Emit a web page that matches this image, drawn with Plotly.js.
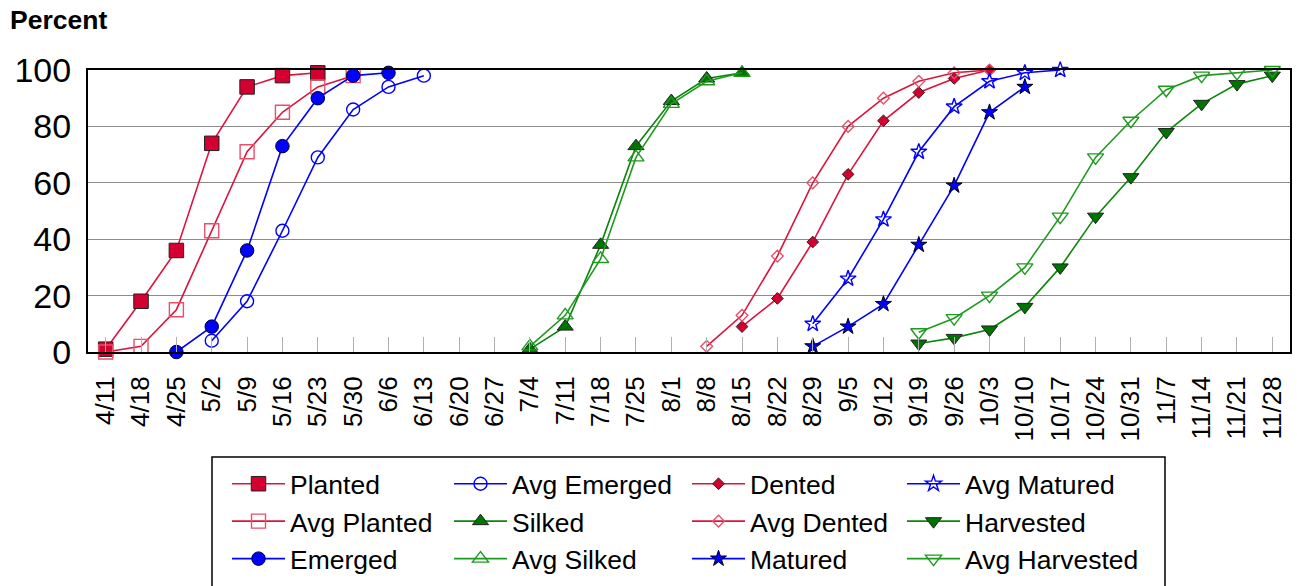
<!DOCTYPE html>
<html>
<head>
<meta charset="utf-8">
<script src="https://cdn.plot.ly/plotly-3.0.1.min.js"></script>
<style>
html,body{margin:0;padding:0;background:#fff;}
#chart{width:1297px;height:586px;}
</style>
</head>
<body>
<div id="chart"></div>
<script>
// ---- categories (weekly dates) ----
const weeks = ["4/11","4/18","4/25","5/2","5/9","5/16","5/23","5/30","6/6","6/13","6/20","6/27",
  "7/4","7/11","7/18","7/25","8/1","8/8","8/15","8/22","8/29","9/5","9/12","9/19","9/26",
  "10/3","10/10","10/17","10/24","10/31","11/7","11/14","11/21","11/28"];

// ---- series: first week + percent values ----
const plantedStart = "4/11";      const planted      = [1, 18, 36, 74, 94, 98, 99];
const avgPlantedStart = "4/11";   const avgPlanted   = [0, 2, 15, 43, 71, 85, 94, 98];
const emergedStart = "4/25";      const emerged      = [0, 9, 36, 73, 90, 98, 99];
const avgEmergedStart = "5/2";    const avgEmerged   = [4, 18, 43, 69, 86, 94, 98];
const silkedStart = "7/4";        const silked       = [1, 9, 38, 73, 89, 97, 99];
const avgSilkedStart = "7/4";     const avgSilked    = [2, 13, 33, 69, 88, 96, 99];
const dentedStart = "8/15";       const dented       = [9, 19, 39, 63, 82, 92, 97, 100];
const avgDentedStart = "8/8";     const avgDented    = [2, 13, 34, 60, 80, 90, 96, 99, 100];
const maturedStart = "8/29";      const matured      = [2, 9, 17, 38, 59, 85, 94];
const avgMaturedStart = "8/29";   const avgMatured   = [10, 26, 47, 71, 87, 96, 99, 100];
const harvestedStart = "9/19";    const harvested    = [3, 5, 8, 16, 30, 48, 62, 78, 88, 95, 98];
const avgHarvestedStart = "9/19"; const avgHarvested = [7, 12, 20, 30, 48, 69, 82, 93, 98, 99, 100];

function datesFrom(start, vals){
  const i = weeks.indexOf(start);
  return weeks.slice(i, i + vals.length);
}

const RED = "#dc143c", RED_FILL = "#d40030", RED_OPEN = "#e8506a";
const BLUE = "#0000ff";
const GREEN = "#0a870a", GREEN_FILL = "#007400", GREEN_AVG = "#1e9a1e";
const OUT = "#222";

function tr(name, start, vals, lineColor, symbol, size, fill, outline, legend){
  return {
    type: "scatter", mode: "lines+markers", name: name,
    x: datesFrom(start, vals), y: vals,
    line: {color: lineColor, width: 1.6},
    marker: {symbol: symbol, size: size, color: fill,
             line: {color: outline, width: symbol.indexOf("open") >= 0 ? 1.4 : 1}},
    legend: legend, cliponaxis: false
  };
}

const data = [
  tr("Planted", plantedStart, planted, RED, "square", 14.5, RED_FILL, OUT, "legend"),
  tr("Avg Planted", avgPlantedStart, avgPlanted, RED, "square-open", 14, RED_OPEN, RED_OPEN, "legend"),
  tr("Emerged", emergedStart, emerged, BLUE, "circle", 13.5, BLUE, "#000030", "legend"),
  tr("Avg Emerged", avgEmergedStart, avgEmerged, BLUE, "circle-open", 13, BLUE, BLUE, "legend2"),
  tr("Silked", silkedStart, silked, GREEN, "triangle-up", 14, GREEN_FILL, OUT, "legend2"),
  tr("Avg Silked", avgSilkedStart, avgSilked, GREEN_AVG, "triangle-up-open", 14, GREEN_AVG, GREEN_AVG, "legend2"),
  tr("Dented", dentedStart, dented, RED, "diamond", 9, RED_FILL, OUT, "legend3"),
  tr("Avg Dented", avgDentedStart, avgDented, RED, "diamond-open", 9, RED_OPEN, RED_OPEN, "legend3"),
  tr("Matured", maturedStart, matured, BLUE, "star", 12, BLUE, "#000", "legend3"),
  tr("Avg Matured", avgMaturedStart, avgMatured, BLUE, "star-open", 12, BLUE, BLUE, "legend4"),
  tr("Harvested", harvestedStart, harvested, GREEN, "triangle-down", 14, GREEN_FILL, OUT, "legend4"),
  tr("Avg Harvested", avgHarvestedStart, avgHarvested, GREEN_AVG, "triangle-down-open", 14, GREEN_AVG, GREEN_AVG, "legend4")
];

const W = 1297, H = 586;
const PL = 88, PR = 1290, PT = 70, PB = 352;
const FONT = "Liberation Sans, Arial, sans-serif";

function legendAt(px){
  return {x: px / W, xref: "container", xanchor: "left",
          y: 1 - 460 / H, yref: "container", yanchor: "top",
          orientation: "v", bgcolor: "rgba(0,0,0,0)", borderwidth: 0,
          font: {family: FONT, size: 26.5, color: "#000"}, tracegroupgap: 0,
          itemwidth: 53, traceorder: "normal"};
}

const px2x = p => (p - PL) / (PR - PL);
const py2y = p => (PB - p) / (PB - PT);

const layout = {
  width: W, height: H,
  margin: {l: PL, r: W - PR, t: PT, b: H - PB, pad: 0, autoexpand: false},
  paper_bgcolor: "#fff", plot_bgcolor: "#fff",
  font: {family: FONT, color: "#000"},
  title: {text: "Percent", font: {family: FONT, size: 26.5, weight: "bold", color: "#000"},
          x: 10 / W, xref: "container", xanchor: "left",
          y: 1 - 20 / H, yref: "container", yanchor: "middle"},
  xaxis: {type: "category", categoryorder: "array", categoryarray: weeks,
          range: [-0.5, weeks.length - 0.5], tickvals: weeks,
          tickangle: -90, ticks: "inside", ticklen: 15, tickcolor: "#b0b0b0", tickwidth: 1,
          showgrid: false, showline: true, linecolor: "#000", linewidth: 2, mirror: true,
          tickfont: {family: FONT, size: 26, color: "#000"}, ticklabelstandoff: 12,
          zeroline: false, fixedrange: true, automargin: false},
  yaxis: {range: [0, 100], dtick: 20, tick0: 0, showgrid: true, gridcolor: "#8c8c8c", gridwidth: 1,
          showline: true, linecolor: "#000", linewidth: 2, mirror: true, ticks: "",
          tickfont: {family: FONT, size: 34, color: "#000"}, ticklabelstandoff: 8,
          zeroline: false, fixedrange: true, automargin: false},
  showlegend: true,
  legend: legendAt(227),
  legend2: legendAt(449),
  legend3: legendAt(687),
  legend4: legendAt(902),
  shapes: [{type: "rect", xref: "paper", yref: "paper",
            x0: px2x(212), x1: px2x(1165), y0: py2y(457), y1: py2y(620),
            line: {color: "#000", width: 1.5}, fillcolor: "rgba(0,0,0,0)", layer: "above"}]
};

Plotly.newPlot("chart", data, layout, {displayModeBar: false, staticPlot: true});
</script>
</body>
</html>
